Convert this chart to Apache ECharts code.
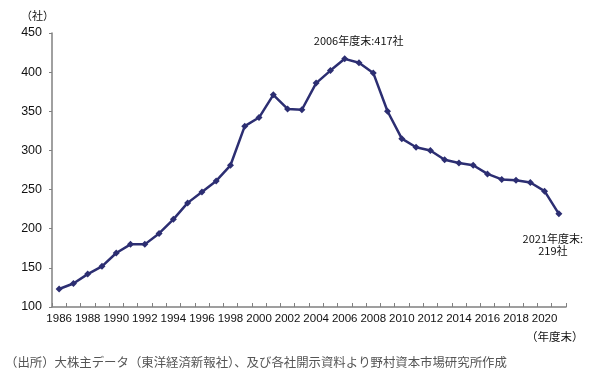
<!DOCTYPE html>
<html>
<head>
<meta charset="utf-8">
<script src="https://cdn.jsdelivr.net/npm/echarts@6/dist/echarts.min.js"></script>
<style>
html,body{margin:0;padding:0;background:#fff;}
#c{width:613px;height:379px;}
</style>
</head>
<body>
<div id="c"></div>
<script>
var years = ['1986','1987','1988','1989','1990','1991','1992','1993','1994','1995','1996','1997','1998','1999','2000','2001','2002','2003','2004','2005','2006','2007','2008','2009','2010','2011','2012','2013','2014','2015','2016','2017','2018','2019','2020','2021'];
var companies = [123,130,142,152,169,180,180,194,212,233,247,261,281,331,342,371,353,352,386,402,417,412,399,350,315,304,300,288,284,281,270,263,262,259,248,219];
var yTicks = {min:100, max:450, interval:50};
var peakLabel = '2006年度末:417社';
var lastLabel = '2021年度末:\n219社';
var yUnit = '（社）';
var xUnit = '（年度末）';
var source = '（出所）大株主データ（東洋経済新報社）、及び各社開示資料より野村資本市場研究所作成';

var font = 'Liberation Sans, Arial, sans-serif';
var jfont = '"Noto Sans CJK JP", sans-serif';

var seriesData = companies.map(function(v, i){
  var item = {value: v};
  if (years[i] === '2006') {
    item.label = {show:true, position:'top', formatter: peakLabel, offset:[14,-4],
      fontSize:11, color:'#111', fontFamily: jfont};
  }
  if (years[i] === '2021') {
    item.label = {show:true, position:'bottom', formatter: lastLabel, offset:[-6,10],
      fontSize:11, color:'#111', fontFamily: jfont, lineHeight:12, align:'center'};
  }
  return item;
});

var chart = echarts.init(document.getElementById('c'), null, {renderer:'canvas'});
chart.setOption({
  animation:false,
  backgroundColor:'#fff',
  grid:{left:52, right:47, top:33, bottom:72},
  xAxis:{
    type:'category', data: years, boundaryGap:true,
    axisLine:{lineStyle:{color:'#808080', width:1.5}},
    axisTick:{show:true, inside:true, length:4, interval:0, lineStyle:{color:'#808080'}},
    axisLabel:{interval:1, color:'#111', fontSize:11.5, fontFamily:font, margin:6}
  },
  yAxis:{
    type:'value', min:yTicks.min, max:yTicks.max, interval:yTicks.interval,
    name: yUnit, nameLocation:'end', nameGap:12,
    nameTextStyle:{align:'right', color:'#111', fontSize:11, fontFamily:jfont, padding:[0,-2,0,0]},
    axisLine:{show:true, lineStyle:{color:'#808080', width:1.5}},
    axisTick:{show:true, length:3, lineStyle:{color:'#808080'}},
    splitLine:{show:false},
    axisLabel:{color:'#111', fontSize:12.5, fontFamily:font, margin:10}
  },
  series:[{
    type:'line', data: seriesData,
    symbol:'diamond', symbolSize:7,
    lineStyle:{color:'#2C2E72', width:2.5},
    itemStyle:{color:'#2C2E72'}
  }],
  graphic:[
    {type:'text', left:526, top:331, style:{text:xUnit, fill:'#111', font:'11.5px "Noto Sans CJK JP", sans-serif'}},
    {type:'text', left:5, top:356, style:{text:source, fill:'#555', font:'12.4px "Noto Sans CJK JP", sans-serif'}}
  ]
});
</script>
</body>
</html>
